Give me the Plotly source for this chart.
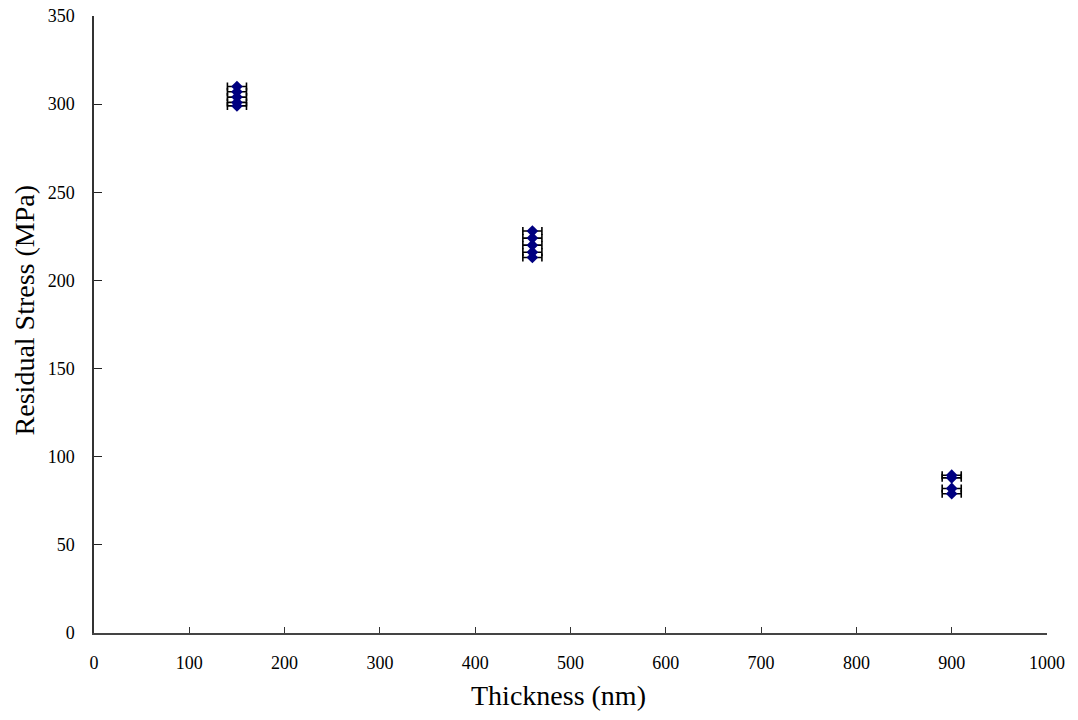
import plotly.graph_objects as go

# Residual stress measurements grouped by film thickness
thickness_nm = [150, 150, 150, 150, 150,
                460, 460, 460, 460, 460,
                900, 900, 900, 900]
stress_mpa = [310, 307, 304, 301, 299,
              228, 224, 220, 216, 213,
              89.5, 88, 82, 79]
thickness_err = [10] * len(thickness_nm)

x_ticks = [0, 100, 200, 300, 400, 500, 600, 700, 800, 900, 1000]
y_ticks = [0, 50, 100, 150, 200, 250, 300, 350]

serif = "Liberation Serif, Times New Roman, serif"

fig = go.Figure()
fig.add_trace(go.Scatter(
    x=thickness_nm,
    y=stress_mpa,
    mode="markers",
    marker=dict(symbol="diamond", size=9, color="#000080",
                line=dict(width=0)),
    error_x=dict(type="data", array=thickness_err, visible=True,
                 color="black", thickness=1.6, width=4),
    showlegend=False,
))

fig.update_layout(
    width=1078, height=720,
    margin=dict(l=94, r=31, t=16, b=87),
    paper_bgcolor="white", plot_bgcolor="white",
    font=dict(family=serif, size=18, color="black"),
    xaxis=dict(
        range=[0, 1000], tickvals=x_ticks, ticks="inside", ticklen=6,
        tickcolor="#333", showline=True, linecolor="#444", linewidth=1.5,
        showgrid=False, zeroline=False, ticklabelstandoff=13,
        tickfont=dict(family=serif, size=18), automargin=False,
    ),
    yaxis=dict(
        range=[0, 350], tickvals=y_ticks, ticks="inside", ticklen=8,
        tickcolor="#222", showline=True, linecolor="#333", linewidth=1.5,
        showgrid=False, zeroline=False, ticklabelstandoff=14,
        tickfont=dict(family=serif, size=18), automargin=False,
    ),
    annotations=[
        dict(text="Thickness (nm)", xref="paper", yref="paper",
             x=0.487, y=-0.073, xanchor="center", yanchor="top",
             showarrow=False, font=dict(family=serif, size=28)),
        dict(text="Residual Stress (MPa)", xref="paper", yref="paper",
             x=-0.055, y=0.523, xanchor="right", yanchor="middle",
             textangle=-90, showarrow=False, font=dict(family=serif, size=28)),
    ],
)

fig.write_html("out.html")
